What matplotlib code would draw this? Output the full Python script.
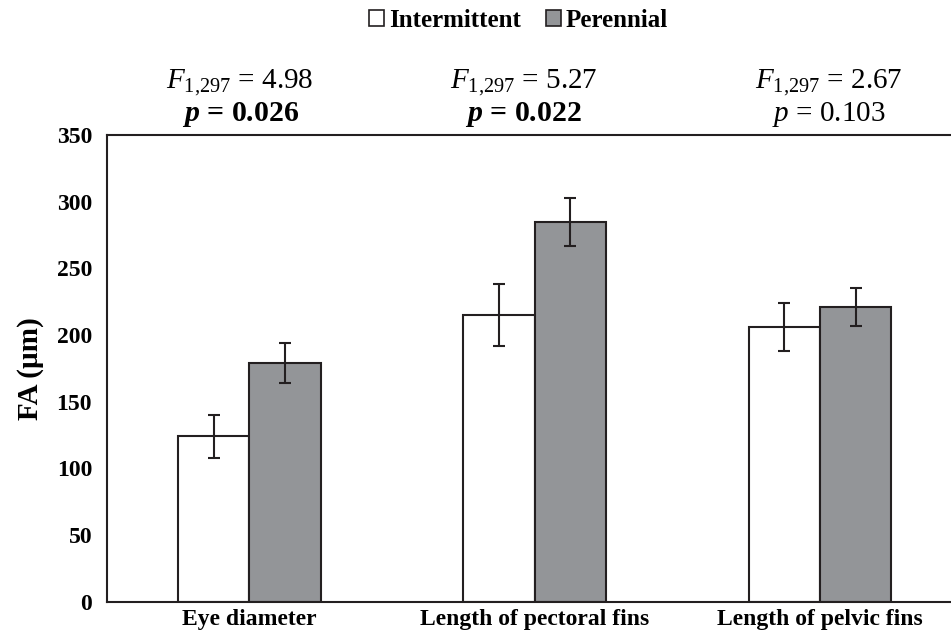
import matplotlib
matplotlib.use("Agg")
import matplotlib.pyplot as plt
from matplotlib.patches import Patch
import numpy as np

# Data
categories = ["Eye diameter", "Length of pectoral fins", "Length of pelvic fins"]
intermittent = [124, 215, 206]
intermittent_err = [16, 23, 18]
perennial = [179, 285, 221]
perennial_err = [15, 18, 14]
f_labels = ["4.98", "5.27", "2.67"]
p_labels = ["0.026", "0.022", "0.103"]
p_significant = [True, True, False]
yticks = [0, 50, 100, 150, 200, 250, 300, 350]

plt.rcParams["font.family"] = ["Liberation Serif", "DejaVu Serif"]
plt.rcParams["mathtext.fontset"] = "custom"
plt.rcParams["mathtext.rm"] = "Liberation Serif"
plt.rcParams["mathtext.it"] = "Liberation Serif:italic"
plt.rcParams["mathtext.bf"] = "Liberation Serif:bold"
plt.rcParams["mathtext.bfit"] = "Liberation Serif:bold:italic"

edge = "#231f20"
grey = "#939598"

fig = plt.figure(figsize=(9.51, 6.33), dpi=100)
ax = fig.add_axes([0.1122, 0.0494, 0.9002, 0.7373])

x = np.arange(len(categories))
w = 0.25
ax.bar(x - w / 2, intermittent, w, color="white", edgecolor=edge, linewidth=1.5,
       zorder=2)
ax.bar(x + w / 2, perennial, w, color=grey, edgecolor=edge, linewidth=1.5,
       zorder=2)
ax.errorbar(x - w / 2, intermittent, yerr=intermittent_err, fmt="none",
            ecolor=edge, elinewidth=1.5, capsize=4.5, capthick=1.5, zorder=3)
ax.errorbar(x + w / 2, perennial, yerr=perennial_err, fmt="none",
            ecolor=edge, elinewidth=1.5, capsize=4.5, capthick=1.5, zorder=3)

ax.set_xlim(-0.5, 2.5)
ax.set_ylim(0, 350)
ax.set_yticks(yticks)
ax.set_xticks(x)
ax.set_xticklabels(categories, fontsize=17, fontweight="bold")
ax.tick_params(axis="both", length=0)
ax.tick_params(axis="y", pad=10.5, labelsize=17)
ax.tick_params(axis="x", pad=5)
for lbl in ax.get_yticklabels():
    lbl.set_fontweight("bold")
for side in ["left", "top", "bottom"]:
    ax.spines[side].set_linewidth(1.5)
    ax.spines[side].set_color(edge)
ax.spines["right"].set_visible(False)

ax.set_ylabel("FA (µm)", fontsize=21, fontweight="bold", labelpad=9)

# statistics above each group
f_offsets = [-0.035, -0.04, 0.03]
p_offsets = [-0.03, -0.04, 0.03]
for i in range(len(categories)):
    ax.text(x[i] + f_offsets[i], 385, r"$F_{1{,}297}$ = " + f_labels[i],
            fontsize=21, ha="center", va="baseline", clip_on=False)
    if p_significant[i]:
        ax.text(x[i] + p_offsets[i], 360.5, r"$\mathbfit{p}$ = " + p_labels[i],
                fontsize=21.5, fontweight="bold", ha="center", va="baseline",
                clip_on=False)
    else:
        ax.text(x[i] + p_offsets[i], 360.5, r"$p$ = " + p_labels[i],
                fontsize=21, ha="center", va="baseline", clip_on=False)

handles = [Patch(facecolor="white", edgecolor=edge, linewidth=1.2),
           Patch(facecolor=grey, edgecolor=edge, linewidth=1.2)]
fig.legend(handles, ["Intermittent", "Perennial"], loc="center",
           bbox_to_anchor=(0.545, 0.968), ncol=2, frameon=False,
           prop={"weight": "bold", "size": 18}, handlelength=0.6,
           handleheight=0.6, handletextpad=0.2, columnspacing=1.0)

fig.savefig("out.png", dpi=100)
